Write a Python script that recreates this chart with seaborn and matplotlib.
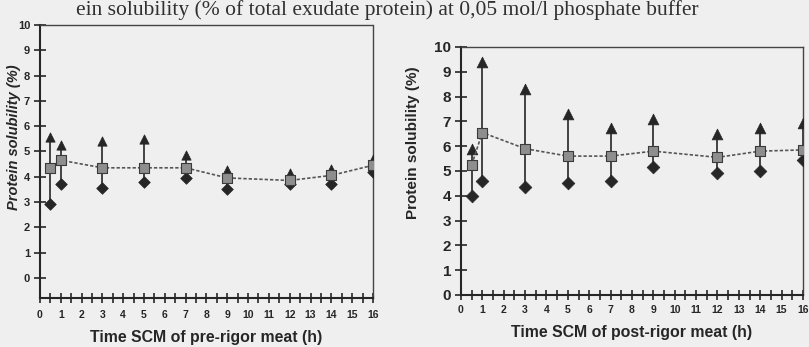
import matplotlib
matplotlib.use("Agg")
import matplotlib.pyplot as plt
import seaborn as sns
import pandas as pd
import numpy as np

# ---- data ----
time_h = [0.5, 1, 3, 5, 7, 9, 12, 14, 16]

pre_mean = [4.35, 4.65, 4.35, 4.35, 4.35, 3.95, 3.85, 4.05, 4.45]
pre_upper = [5.55, 5.25, 5.4, 5.5, 4.85, 4.25, 4.15, 4.3, 4.7]
pre_lower = [2.9, 3.7, 3.55, 3.8, 3.95, 3.5, 3.7, 3.7, 4.2]

post_mean = [5.25, 6.55, 5.9, 5.6, 5.6, 5.8, 5.55, 5.8, 5.85]
post_upper = [5.9, 9.4, 8.3, 7.3, 6.75, 7.1, 6.5, 6.75, 6.95]
post_lower = [4.0, 4.6, 4.35, 4.5, 4.6, 5.15, 4.9, 5.0, 5.45]

y_ticks = list(range(0, 11))
x_ticks = list(range(0, 17))

title_text = "ein solubility (% of total exudate protein) at 0,05 mol/l phosphate buffer"
ylabel_text = "Protein solubility (%)"
xlabel_pre = "Time SCM of pre-rigor meat (h)"
xlabel_post = "Time SCM of post-rigor meat (h)"

sns.set_theme(style="white")
plt.rcParams['font.family'] = ['Liberation Sans', 'DejaVu Sans']

BG = "#efefef"
INK = "#262626"

fig = plt.figure(figsize=(8.09, 3.47), dpi=100, facecolor=BG)

ax1 = fig.add_axes([0.0494, 0.1412, 0.4116, 0.7868])
ax2 = fig.add_axes([0.5698, 0.1499, 0.4227, 0.7147])


def draw_panel(ax, mean, upper, lower, ylo, s_sq, s_tri, s_dia):
    ax.set_facecolor(BG)
    df = pd.DataFrame({"t": time_h, "m": mean, "u": upper, "l": lower})
    ax.vlines(df["t"], df["l"], df["u"], color=INK, lw=1.2, zorder=2)
    sns.scatterplot(data=df, x="t", y="u", marker="^", s=s_tri, color=INK,
                    edgecolor=INK, linewidth=0.5, ax=ax, zorder=3, legend=False)
    sns.scatterplot(data=df, x="t", y="l", marker="D", s=s_dia, color=INK,
                    edgecolor=INK, linewidth=0.5, ax=ax, zorder=3, legend=False)
    sns.lineplot(data=df, x="t", y="m", color="#555555", lw=1.2,
                 linestyle=(0, (2, 1.2)), ax=ax, zorder=4, legend=False)
    sns.scatterplot(data=df, x="t", y="m", marker="s", s=s_sq, color="#8e8e8e",
                    edgecolor="#3a3a3a", linewidth=0.8, ax=ax, zorder=5, legend=False)
    ax.set_xlim(0, 16)
    ax.set_ylim(ylo, 10)
    ax.set_xticks(x_ticks)
    ax.set_xticks(np.arange(0, 16.01, 0.5), minor=True)
    ax.set_yticks(y_ticks)
    for side in ["top", "right"]:
        ax.spines[side].set_linestyle((0, (1, 1)))
        ax.spines[side].set_linewidth(1.0)
        ax.spines[side].set_color("#444444")
    for side in ["left", "bottom"]:
        ax.spines[side].set_linewidth(1.5)
        ax.spines[side].set_color(INK)
    ax.tick_params(axis="both", which="both", direction="inout", color=INK,
                   width=1.2, bottom=True, left=True)
    ax.tick_params(axis="x", which="both", length=7)
    ax.tick_params(axis="y", which="major", length=8)
    ax.grid(False)


draw_panel(ax1, pre_mean, pre_upper, pre_lower, -0.8, 45, 45, 35)
draw_panel(ax2, post_mean, post_upper, post_lower, 0, 55, 60, 42)

# left panel text
for lab in ax1.get_xticklabels():
    lab.set_fontweight("bold")
    lab.set_fontsize(7.5)
    lab.set_color(INK)
for lab in ax1.get_yticklabels():
    lab.set_fontweight("bold")
    lab.set_fontsize(8)
    lab.set_color(INK)
    lab.set_family(["Liberation Sans Narrow", "Liberation Sans"])
ax1.tick_params(axis="x", pad=5)
ax1.tick_params(axis="y", pad=3)
ax1.set_xlabel(xlabel_pre, fontsize=11.4, fontweight="bold", color=INK, labelpad=7)
ax1.set_ylabel(ylabel_text, fontsize=10.5, fontweight="bold", style="italic",
               color=INK)
ax1.yaxis.set_label_coords((21 - 40) / 333, (298 - 137) / 273)

# right panel text
for lab in ax2.get_xticklabels():
    lab.set_fontweight("bold")
    lab.set_fontsize(7.5)
    lab.set_color(INK)
for lab in ax2.get_yticklabels():
    lab.set_fontweight("bold")
    lab.set_fontsize(11)
    lab.set_color(INK)
ax2.tick_params(axis="x", pad=4)
ax2.tick_params(axis="y", pad=3)
ax2.set_xlabel(xlabel_post, fontsize=11.4, fontweight="bold", color=INK, labelpad=7)
ax2.set_ylabel(ylabel_text, fontsize=11, fontweight="bold", color=INK)
ax2.yaxis.set_label_coords((420 - 461) / 342, (295 - 143) / 248)

fig.text(76 / 809, 1 - 15 / 347, title_text, fontsize=15.5,
         family=["Liberation Serif", "DejaVu Serif"], color="#303030",
         ha="left", va="baseline")

fig.savefig("out.png", dpi=100, facecolor=BG)
